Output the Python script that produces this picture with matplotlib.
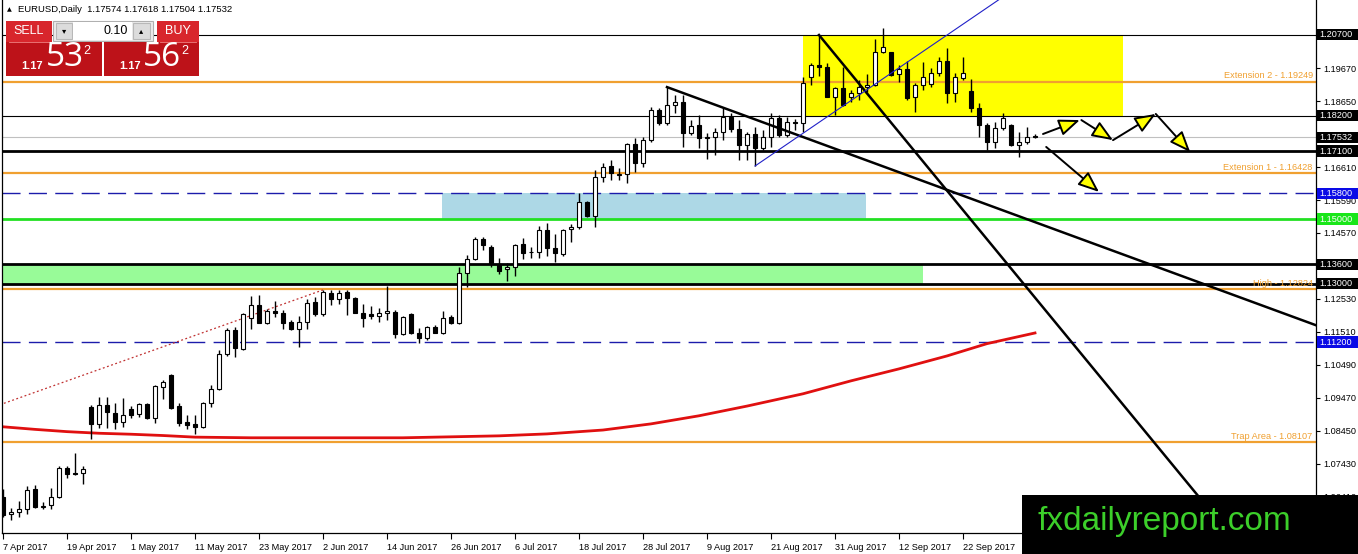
import matplotlib
matplotlib.use('Agg')
import matplotlib.pyplot as plt
import matplotlib.transforms as mtransforms
from matplotlib.patches import Rectangle

plt.rcParams['font.family'] = ['Liberation Sans', 'DejaVu Sans']

# daily EURUSD bars, 7 Apr 2017 .. 5 Oct 2017
opens = [1.0641, 1.0589, 1.0595, 1.0604, 1.0666, 1.0610, 1.0617, 1.0641, 1.0731, 1.0715,
         1.0715, 1.0919, 1.0867, 1.0926, 1.0901, 1.0873, 1.0913, 1.0898, 1.0929, 1.0885,
         1.0981, 1.1018, 1.0922, 1.0873, 1.0867, 1.0858, 1.0932, 1.0975, 1.1083, 1.1157,
         1.1099, 1.1194, 1.1235, 1.1179, 1.1216, 1.1210, 1.1182, 1.1160, 1.1182, 1.1244,
         1.1207, 1.1272, 1.1253, 1.1275, 1.1256, 1.1210, 1.1207, 1.1201, 1.1210, 1.1213,
         1.1145, 1.1207, 1.1148, 1.1133, 1.1167, 1.1148, 1.1197, 1.1179, 1.1333, 1.1377,
         1.1438, 1.1414, 1.1358, 1.1346, 1.1352, 1.1423, 1.1398, 1.1398, 1.1466, 1.1411,
         1.1392, 1.1469, 1.1476, 1.1553, 1.1510, 1.1630, 1.1664, 1.1636, 1.1639, 1.1732,
         1.1673, 1.1744, 1.1837, 1.1797, 1.1853, 1.1862, 1.1766, 1.1791, 1.1751, 1.1754,
         1.1769, 1.1816, 1.1778, 1.1729, 1.1763, 1.1720, 1.1754, 1.1812, 1.1760, 1.1800,
         1.1797, 1.1939, 1.1976, 1.1970, 1.1877, 1.1905, 1.1877, 1.1890, 1.1908, 1.1914,
         1.2016, 1.2016, 1.1948, 1.1964, 1.1877, 1.1914, 1.1917, 1.1951, 1.1989, 1.1890,
         1.1936, 1.1896, 1.1843, 1.1791, 1.1738, 1.1781, 1.1791, 1.1729, 1.1738, 1.17574]
highs = [1.0666, 1.0607, 1.0629, 1.0675, 1.0678, 1.0626, 1.0669, 1.0737, 1.0737, 1.0777,
         1.0737, 1.0926, 1.0950, 1.0950, 1.0932, 1.0947, 1.0922, 1.0932, 1.0932, 1.0987,
         1.1003, 1.1021, 1.0932, 1.0895, 1.0895, 1.0935, 1.0987, 1.1096, 1.1164, 1.1167,
         1.1210, 1.1262, 1.1265, 1.1222, 1.1247, 1.1219, 1.1188, 1.1201, 1.1253, 1.1259,
         1.1281, 1.1281, 1.1281, 1.1281, 1.1259, 1.1238, 1.1231, 1.1225, 1.1293, 1.1219,
         1.1201, 1.1210, 1.1164, 1.1170, 1.1173, 1.1216, 1.1204, 1.1352, 1.1389, 1.1445,
         1.1445, 1.1420, 1.1380, 1.1364, 1.1423, 1.1442, 1.1414, 1.1479, 1.1488, 1.1454,
         1.1469, 1.1485, 1.1581, 1.1556, 1.1652, 1.1673, 1.1683, 1.1658, 1.1735, 1.1751,
         1.1754, 1.1846, 1.1843, 1.1908, 1.1883, 1.1883, 1.1806, 1.1822, 1.1766, 1.1781,
         1.1843, 1.1828, 1.1806, 1.1769, 1.1785, 1.1775, 1.1828, 1.1822, 1.1816, 1.1809,
         1.1939, 1.1982, 1.2069, 1.1982, 1.1908, 1.1970, 1.1899, 1.1930, 1.1948, 1.2057,
         1.2091, 1.2016, 1.1976, 1.1989, 1.1921, 1.1985, 1.1967, 1.2001, 1.2029, 1.1951,
         1.2001, 1.1933, 1.1859, 1.1797, 1.1800, 1.1828, 1.1794, 1.1769, 1.1785, 1.17618]
lows = [1.0579, 1.0570, 1.0579, 1.0589, 1.0607, 1.0604, 1.0604, 1.0638, 1.0700, 1.0709,
        1.0681, 1.0820, 1.0854, 1.0854, 1.0851, 1.0858, 1.0885, 1.0888, 1.0882, 1.0870,
        1.0944, 1.0913, 1.0861, 1.0851, 1.0836, 1.0854, 1.0919, 1.0972, 1.1077, 1.1074,
        1.1096, 1.1160, 1.1179, 1.1176, 1.1197, 1.1160, 1.1157, 1.1105, 1.1160, 1.1201,
        1.1201, 1.1235, 1.1238, 1.1204, 1.1210, 1.1167, 1.1191, 1.1182, 1.1188, 1.1133,
        1.1142, 1.1145, 1.1117, 1.1126, 1.1148, 1.1145, 1.1176, 1.1176, 1.1290, 1.1374,
        1.1404, 1.1352, 1.1330, 1.1309, 1.1324, 1.1377, 1.1380, 1.1380, 1.1386, 1.1367,
        1.1386, 1.1429, 1.1469, 1.1506, 1.1476, 1.1615, 1.1621, 1.1621, 1.1612, 1.1646,
        1.1661, 1.1738, 1.1791, 1.1791, 1.1828, 1.1723, 1.1760, 1.1720, 1.1686, 1.1698,
        1.1744, 1.1769, 1.1683, 1.1683, 1.1664, 1.1714, 1.1723, 1.1754, 1.1754, 1.1775,
        1.1769, 1.1914, 1.1942, 1.1877, 1.1822, 1.1849, 1.1862, 1.1868, 1.1893, 1.1911,
        1.2013, 1.1942, 1.1924, 1.1868, 1.1831, 1.1899, 1.1908, 1.1942, 1.1859, 1.1862,
        1.1930, 1.1831, 1.1754, 1.1714, 1.1720, 1.1775, 1.1726, 1.1692, 1.1732, 1.17504]
closes = [1.0586, 1.0595, 1.0604, 1.0663, 1.0610, 1.0614, 1.0641, 1.0731, 1.0712, 1.0712,
          1.0728, 1.0867, 1.0926, 1.0904, 1.0873, 1.0895, 1.0895, 1.0929, 1.0885, 1.0984,
          1.0997, 1.0916, 1.0870, 1.0864, 1.0858, 1.0932, 1.0975, 1.1083, 1.1157, 1.1102,
          1.1207, 1.1235, 1.1179, 1.1216, 1.1210, 1.1179, 1.1160, 1.1182, 1.1241, 1.1207,
          1.1275, 1.1253, 1.1272, 1.1256, 1.1210, 1.1194, 1.1201, 1.1210, 1.1216, 1.1145,
          1.1197, 1.1148, 1.1133, 1.1167, 1.1148, 1.1194, 1.1179, 1.1333, 1.1377, 1.1438,
          1.1420, 1.1364, 1.1340, 1.1352, 1.1420, 1.1395, 1.1399, 1.1466, 1.1411, 1.1395,
          1.1466, 1.1476, 1.1553, 1.1510, 1.1630, 1.1661, 1.1642, 1.1639, 1.1732, 1.1673,
          1.1744, 1.1837, 1.1797, 1.1853, 1.1862, 1.1766, 1.1788, 1.1751, 1.1754, 1.1769,
          1.1816, 1.1778, 1.1729, 1.1763, 1.1720, 1.1754, 1.1812, 1.1760, 1.1800, 1.1797,
          1.1921, 1.1976, 1.1970, 1.1877, 1.1905, 1.1853, 1.1890, 1.1908, 1.1914, 1.2016,
          1.2032, 1.1945, 1.1964, 1.1874, 1.1914, 1.1939, 1.1951, 1.1989, 1.1890, 1.1939,
          1.1951, 1.1843, 1.1791, 1.1738, 1.1781, 1.1812, 1.1729, 1.1738, 1.1754, 1.17532]

# moving average (read at sample bars)
ma_idx = [0, 4, 8, 12, 16, 20, 24, 31, 37, 43, 50, 56, 62, 68, 75, 81, 87, 93, 100, 106, 112, 118, 123, 129]
ma_val = [1.0858, 1.0850, 1.0843, 1.0838, 1.0835, 1.0831, 1.0826, 1.0824, 1.0824, 1.0824, 1.0824, 1.0827,
          1.0830, 1.0836, 1.0848, 1.0867, 1.0892, 1.0922, 1.0960, 1.1000, 1.1037, 1.1077, 1.1115, 1.1148]

xtick_idx = [0, 8, 16, 24, 32, 40, 48, 56, 64, 72, 80, 88, 96, 104, 112, 120]
xtick_lbl = ['7 Apr 2017', '19 Apr 2017', '1 May 2017', '11 May 2017', '23 May 2017', '2 Jun 2017',
             '14 Jun 2017', '26 Jun 2017', '6 Jul 2017', '18 Jul 2017', '28 Jul 2017', '9 Aug 2017',
             '21 Aug 2017', '31 Aug 2017', '12 Sep 2017', '22 Sep 2017']
ytick_vals = [1.0641, 1.0743, 1.0845, 1.0947, 1.1049, 1.1151, 1.1253, 1.1355, 1.1457, 1.1559,
              1.1661, 1.1763, 1.1865, 1.1967, 1.2069]
ytick_hidden = [1.1355, 1.1763, 1.2069]   # covered by the level boxes

# levels
fib_levels = [1.19249, 1.16428, 1.12824, 1.08107]
fib_names = ['Extension 2 - 1.19249', 'Extension 1 - 1.16428', 'High - 1.12824', 'Trap Area - 1.08107']
thin_black = [1.2070, 1.1820]
thick_black = [1.1710, 1.1360, 1.1300]
dashed_blue = [1.1580, 1.1120]
green_level = 1.1500
bid = 1.17532
box_levels = [1.2070, 1.1820, 1.17532, 1.1710, 1.1580, 1.1500, 1.1360, 1.1300, 1.1120]
box_kinds = ['k', 'k', 'k', 'k', 'b', 'g', 'k', 'k', 'b']

# zones: (start bar, end bar, low, high)
yellow_zone = (100, 140, 1.1820, 1.2070)
blue_zone = (54.9, 107.9, 1.1500, 1.1580)
green_zone = (-0.125, 115, 1.1300, 1.1360)

# trend lines: two anchor points (bar, price)
tl_down1 = [(83, 1.1908), (164, 1.1173)]
tl_down2 = [(102, 1.2069), (149.6, 1.0638)]
tl_blue = [(94, 1.1664), (124, 1.2170)]
tl_red = [(-0.4, 1.0926), (40, 1.1281)]

# forecast arrows (start bar, start price, end bar, end price)
arrows = [(130.0, 1.1763, 134.6, 1.1806), (134.8, 1.1806, 138.75, 1.1744),
          (138.75, 1.1744, 144.1, 1.1825), (144.1, 1.1825, 148.4, 1.1707),
          (130.4, 1.1723, 137.0, 1.1584)]

W, H = 1358, 554
fig = plt.figure(figsize=(W / 100, H / 100), dpi=100)
ax = fig.add_axes([2 / W, 21 / H, 1314 / W, 533 / H])
ax.set_xlim(-0.125, 164.125)
ax.set_ylim(1.05297, 1.21772)


def ray(p, x_end=200):
    (x0, y0), (x1, y1) = p
    k = (y1 - y0) / (x1 - x0)
    return [x0, x_end], [y0, y0 + k * (x_end - x0)]


for (a, b, lo, hi), col in [(yellow_zone, '#ffff00'), (blue_zone, '#add8e6'), (green_zone, '#98fb98')]:
    ax.add_patch(Rectangle((a, lo), b - a, hi - lo, facecolor=col, edgecolor='none', zorder=1))

for lv in thin_black:
    ax.axhline(lv, color='black', lw=0.8, zorder=2)
for lv in thick_black:
    ax.axhline(lv, color='black', lw=2.0, zorder=2)
for lv in dashed_blue:
    ax.axhline(lv, color='#1c1cab', lw=1.0, ls=(0, (13, 6)), zorder=2)
ax.axhline(green_level, color='#22e022', lw=2.0, zorder=2)
ax.axhline(bid, color='#c0c0c0', lw=0.8, zorder=2)
btrans = mtransforms.blended_transform_factory(ax.transAxes, ax.transData)
for lv, name in zip(fib_levels, fib_names):
    ax.axhline(lv, color='#f0a030', lw=1.6, zorder=2)
    ax.text(0.9975, lv + 0.0004, name, transform=btrans,
            ha='right', va='bottom', fontsize=6.6, color='#f0a030', zorder=4)

ax.plot(ma_idx, ma_val, color='#e01010', lw=2.0, zorder=2.5)
xs, ys = zip(*tl_red)
ax.plot(xs, ys, color='#c03030', lw=0.9, ls=(0, (1.5, 2)), zorder=2.5)

# candles
x = list(range(len(opens)))
ax.vlines(x, lows, highs, color='black', lw=1.0, zorder=3)
bottoms = [min(o, c) for o, c in zip(opens, closes)]
heights = [max(abs(c - o), 0.00004) for o, c in zip(opens, closes)]
fills = ['white' if c >= o else 'black' for o, c in zip(opens, closes)]
ax.bar(x, heights, bottom=bottoms, width=0.62, color=fills, edgecolor='black', linewidth=0.8, zorder=3.1)

for tl, col, lw in [(tl_down1, 'black', 1.8), (tl_down2, 'black', 1.8), (tl_blue, '#2020c8', 0.8)]:
    xs, ys = ray(tl)
    ax.plot(xs, ys, color=col, lw=lw, zorder=4)

for x0, y0, x1, y1 in arrows:
    ax.annotate('', xy=(x1, y1), xytext=(x0, y0),
                arrowprops=dict(arrowstyle='-|>,head_length=0.8,head_width=0.32', fc='#ffff00', ec='black',
                                lw=1.4, mutation_scale=16, shrinkA=0, shrinkB=0), zorder=5)

# axes styling
ax.spines['top'].set_visible(False)
for s in ['left', 'right', 'bottom']:
    ax.spines[s].set_linewidth(0.9)
ax.yaxis.tick_right()
ax.set_yticks(ytick_vals)
ax.set_yticklabels(['' if v in ytick_hidden else f'{v:.5f}' for v in ytick_vals])
ax.tick_params(axis='y', length=3, width=0.8, labelsize=6.6, pad=2)
ax.set_xticks(xtick_idx)
ax.set_xticklabels(xtick_lbl, ha='left')
ax.tick_params(axis='x', length=4, width=0.8, labelsize=6.6, pad=3)

box_col = {'k': 'black', 'b': '#0a0ae6', 'g': '#19e619'}
bh = 0.0035
for lv, kind in zip(box_levels, box_kinds):
    ax.add_patch(Rectangle((1.0008, lv - bh / 2), 0.0315, bh, transform=btrans, clip_on=False,
                           facecolor=box_col[kind], edgecolor='none', zorder=6))
    ax.text(1.0025, lv, f'{lv:.5f}', transform=btrans, ha='left', va='center', fontsize=6.6,
            color='white', zorder=7, clip_on=False)

# overlay: trade panel and watermark
ov = fig.add_axes([0, 0, 1, 1], zorder=10)
ov.set_xlim(0, W)
ov.set_ylim(H, 0)
ov.axis('off')
ov.patch.set_alpha(0)


def box(x0, y0, x1, y1, fc, ec='none', lw=0.8):
    ov.add_patch(Rectangle((x0, y0), x1 - x0, y1 - y0, facecolor=fc, edgecolor=ec, lw=lw))


ov.text(7, 10, '▲', fontsize=4.5, va='center', family=['DejaVu Sans'])
ov.text(18, 10, 'EURUSD,Daily  1.17574 1.17618 1.17504 1.17532', fontsize=6.8, va='center')

box(6, 21, 52, 42, '#d8262c')
box(157, 21, 199, 42, '#d8262c')
ov.text(29, 31.5, 'SELL', color='white', fontsize=9, ha='center', va='center')
ov.text(178, 31.5, 'BUY', color='white', fontsize=9, ha='center', va='center')
box(53, 21, 153, 41, '#ececec', '#b0b0b0')
box(56, 23, 72, 39, '#dcdcdc', '#b8b8b8')
box(133, 23, 150, 39, '#dcdcdc', '#b8b8b8')
box(73, 22, 132, 40, 'white', 'none')
ov.text(64, 31, '▾', fontsize=6, ha='center', va='center', family=['DejaVu Sans'])
ov.text(141.5, 31, '▴', fontsize=6, ha='center', va='center', family=['DejaVu Sans'])
ov.text(128, 31, '0.10', fontsize=9, ha='right', va='center')

box(6, 42, 102, 76, '#bd1219')
box(104, 42, 199, 76, '#bd1219')
ov.plot([9, 49], [41.5, 41.5], color='#f08080', lw=0.6)
ov.plot([160, 196], [41.5, 41.5], color='#f08080', lw=0.6)
for x_small, x_big, x_sup, big in [(32, 65, 87, '53'), (130, 162, 185, '56')]:
    ov.text(x_small, 66, '1.17', color='white', fontsize=8, fontweight='bold', ha='center', va='center')
    ov.text(x_big, 58, big, color='white', fontsize=24, ha='center', va='center', family=['Open Sans', 'DejaVu Sans'])
    ov.text(x_sup, 51.5, '2', color='white', fontsize=9, ha='center', va='center')

box(1022, 495, W, H, 'black')
ov.text(1038, 530, 'fxdailyreport.com', color='#3ccf2a', fontsize=24, ha='left', va='baseline')

fig.savefig('out.png', dpi=100, facecolor='white')
